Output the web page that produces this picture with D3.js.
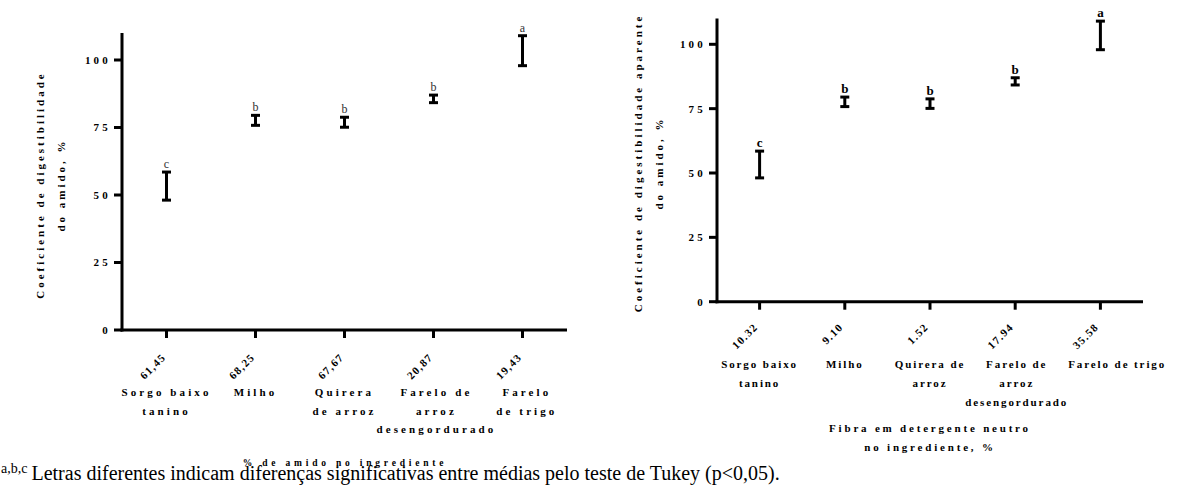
<!DOCTYPE html>
<html>
<head>
<meta charset="utf-8">
<script src="https://cdn.jsdelivr.net/npm/d3@7"></script>
</head>
<body style="margin:0">
<svg id="chart" width="1181" height="495"></svg>
<script>
// valores (caracteres especiais escritos como \u)
var ingredientesA = [["Sorgo baixo", "tanino"], ["Milho"], ["Quirera", "de arroz"], ["Farelo de", "arroz", "desengordurado"], ["Farelo", "de trigo"]];
var ingredientesB = [["Sorgo baixo", "tanino"], ["Milho"], ["Quirera de", "arroz"], ["Farelo de", "arroz", "desengordurado"], ["Farelo de trigo"]];
var amido = ["61,45", "68,25", "67,67", "20,87", "19,43"];
var fdn = ["10.32", "9.10", "1.52", "17.94", "35.58"];
var superior = [58.5, 79.5, 78.8, 87.0, 109.0];
var inferior = [48.1, 75.8, 75.1, 84.2, 97.9];
var letras = ["c", "b", "b", "b", "a"];
var yTicks = [0, 25, 50, 75, 100];

var FONTE = "Liberation Serif";
var svg = d3.select("#chart");

function painel(p) {
    var g = svg.append("g");

    var x = d3.scalePoint()
        .domain(d3.range(superior.length))
        .range([p.left, p.right])
        .padding(0.5);

    var y = d3.scaleLinear()
        .domain([0, 110])
        .range([p.bottom, p.bottom - 110 * p.pxPorUnidade]);

    // eixos desenhados a partir das escalas
    var eixos = g.append("g").attr("stroke", "black").attr("stroke-width", 3);

    eixos.append("line")
        .attr("x1", p.left).attr("x2", p.left)
        .attr("y1", y(110)).attr("y2", p.bottom + 1.5);

    eixos.append("line")
        .attr("x1", p.left - 1.5).attr("x2", p.right)
        .attr("y1", p.bottom).attr("y2", p.bottom);

    eixos.selectAll(".ytick")
        .data(yTicks)
        .enter()
        .append("line")
        .attr("x1", p.left - 8).attr("x2", p.left)
        .attr("y1", function(d) { return y(d); })
        .attr("y2", function(d) { return y(d); });

    eixos.selectAll(".xtick")
        .data(x.domain())
        .enter()
        .append("line")
        .attr("x1", function(d) { return x(d); })
        .attr("x2", function(d) { return x(d); })
        .attr("y1", p.bottom).attr("y2", p.bottom + 8);

    g.selectAll(".ylab")
        .data(yTicks)
        .enter()
        .append("text")
        .attr("x", p.left - 11)
        .attr("y", function(d) { return y(d); })
        .attr("dy", "0.35em")
        .attr("text-anchor", "end")
        .attr("font-family", FONTE)
        .attr("font-weight", "bold")
        .attr("font-size", 11)
        .attr("letter-spacing", 3.2)
        .text(function(d) { return d; });

    // rotulos numericos rotacionados
    g.selectAll(".num")
        .data(p.numeros)
        .enter()
        .append("text")
        .attr("transform", function(d, i) {
            return "translate(" + (x(i) + p.numDx) + "," + (p.bottom + p.numDy) + ") rotate(-45)";
        })
        .attr("text-anchor", "end")
        .attr("font-family", FONTE)
        .attr("font-weight", "bold")
        .attr("font-size", 11)
        .attr("letter-spacing", 1.3)
        .text(function(d) { return d; });

    // nomes dos ingredientes
    var fimAnterior = -Infinity;
    g.selectAll(".cat")
        .data(p.nomes)
        .enter()
        .append("text")
        .attr("text-anchor", "middle")
        .attr("font-family", FONTE)
        .attr("font-weight", "bold")
        .attr("font-size", 11)
        .attr("letter-spacing", p.catSpacing)
        .each(function(d, i) {
            var t = d3.select(this);
            d.forEach(function(linha, j) {
                t.append("tspan")
                    .attr("x", x(i))
                    .attr("y", p.bottom + p.catDy + j * p.catLinha)
                    .text(linha);
            });
            // empurra para a direita se encostar no rotulo anterior
            var caixa = this.getBBox();
            var desloc = Math.max(0, fimAnterior - caixa.x);
            if (desloc > 0) t.selectAll("tspan").attr("x", x(i) + desloc);
            fimAnterior = caixa.x + caixa.width + desloc;
        });

    // barras de erro
    var barras = g.selectAll(".erro")
        .data(superior)
        .enter()
        .append("g")
        .attr("stroke", "black")
        .attr("stroke-width", 3);

    barras.append("line")
        .attr("x1", function(d, i) { return x(i); })
        .attr("x2", function(d, i) { return x(i); })
        .attr("y1", function(d) { return y(d); })
        .attr("y2", function(d, i) { return y(inferior[i]); });

    barras.append("line")
        .attr("x1", function(d, i) { return x(i) - 4.5; })
        .attr("x2", function(d, i) { return x(i) + 4.5; })
        .attr("y1", function(d) { return y(d); })
        .attr("y2", function(d) { return y(d); });

    barras.append("line")
        .attr("x1", function(d, i) { return x(i) - 4.5; })
        .attr("x2", function(d, i) { return x(i) + 4.5; })
        .attr("y1", function(d, i) { return y(inferior[i]); })
        .attr("y2", function(d, i) { return y(inferior[i]); });

    // letras de Tukey
    g.selectAll(".letra")
        .data(letras)
        .enter()
        .append("text")
        .attr("text-anchor", "middle")
        .attr("font-family", FONTE)
        .attr("x", function(d, i) { return x(i); })
        .attr("y", function(d, i) { return y(superior[i]) - 4; })
        .attr("font-size", p.letraBold ? 13 : 12)
        .attr("font-weight", p.letraBold ? "bold" : "normal")
        .attr("fill", p.letraBold ? "black" : "rgb(51,51,51)")
        .text(function(d) { return d; });

    // titulo do eixo y
    var ty = g.append("text")
        .attr("transform", "translate(" + p.yTitleX + "," + p.yTitleY + ") rotate(-90)")
        .attr("text-anchor", "middle")
        .attr("font-family", FONTE)
        .attr("font-weight", "bold")
        .attr("font-size", 11)
        .attr("letter-spacing", 3);
    p.yTitulo.forEach(function(linha, j) {
        ty.append("tspan").attr("x", 0).attr("y", j * 21).text(linha);
    });

    // titulo do eixo x
    var tx = g.append("text")
        .attr("text-anchor", "middle")
        .attr("font-family", FONTE)
        .attr("font-weight", "bold")
        .attr("font-size", p.xTitleSize)
        .attr("letter-spacing", p.xTitleSpacing);
    p.xTitulo.forEach(function(linha, j) {
        tx.append("tspan").attr("x", p.xTitleX).attr("y", p.xTitleY + j * 19).text(linha);
    });
}

painel({
    left: 122, right: 567, bottom: 330, pxPorUnidade: 2.7,
    numeros: amido, numDx: 0, numDy: 28,
    nomes: ingredientesA, catDy: 66, catLinha: 18.5, catSpacing: 3.1,
    letraBold: false,
    yTitulo: ["Coeficiente de digestibilidade", "do amido, \u0025"],
    yTitleX: 44, yTitleY: 185,
    xTitulo: ["\u0025 de amido no ingrediente"],
    xTitleX: 345, xTitleY: 466, xTitleSize: 9.5, xTitleSpacing: 3.8
});

painel({
    left: 717, right: 1143, bottom: 301.7, pxPorUnidade: 2.574,
    numeros: fdn, numDx: -1, numDy: 26,
    nomes: ingredientesB, catDy: 66, catLinha: 19, catSpacing: 1.9,
    letraBold: true,
    yTitulo: ["Coeficiente de digestibilidade aparente", "do amido, \u0025"],
    yTitleX: 642, yTitleY: 163,
    xTitulo: ["Fibra em detergente neutro", "no ingrediente, \u0025"],
    xTitleX: 930, xTitleY: 432, xTitleSize: 11, xTitleSpacing: 2.8
});

// nota de rodape
var nota = svg.append("text")
    .attr("x", 1)
    .attr("y", 480)
    .attr("font-family", FONTE)
    .attr("font-size", 20);
nota.append("tspan")
    .attr("font-size", 14)
    .attr("dy", -7)
    .text("a,b,c");
nota.append("tspan")
    .attr("dy", 7)
    .attr("dx", 4)
    .text("Letras diferentes indicam diferen\u00e7as significativas entre m\u00e9dias pelo teste de Tukey (p\u003c0,05).");
</script>
</body>
</html>
